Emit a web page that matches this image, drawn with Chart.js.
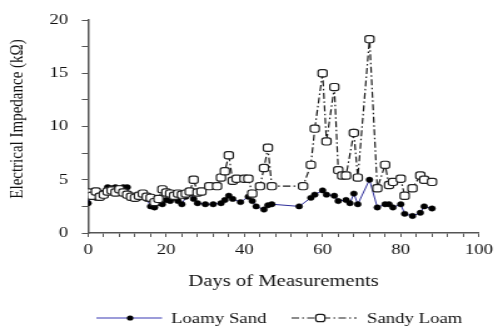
<!DOCTYPE html>
<html><head><meta charset="utf-8">
<script src="https://cdn.jsdelivr.net/npm/chart.js@4.4.1/dist/chart.umd.min.js"></script>
<style>
html,body{margin:0;padding:0;background:#fff;overflow:hidden}
#c{display:block;width:498px !important;height:328px !important}
</style>
</head><body>
<canvas id="c" width="398" height="328" style="width:498px;height:328px"></canvas>
<script>
// ---- data ----
const seriesNames = ['Loamy Sand', 'Sandy Loam'];
const loamyDays = [0,1,2,3,4,5,6,7,8,9,10,11,12,13,14,15,16,17,18,19,20,21,22,23,24,25,26,27,28,
  30,32,34,35,36,37,39,41,42,43,45,46,47,
  54,57,58,60,61,63,64,66,67,68,69,72,74,76,77,78,80,81,83,85,86,88];
const loamyValues = [2.8,3.7,3.3,3.6,3.8,4.3,4.2,4.3,4.2,4.3,4.3,3.3,3.3,3.3,3.6,3.2,2.5,2.4,2.8,2.7,3.1,3.0,3.3,3.0,2.7,3.4,3.7,3.2,2.8,
  2.7,2.7,2.8,3.1,3.5,3.2,2.9,3.4,3.0,2.5,2.2,2.6,2.7,
  2.5,3.3,3.6,4.0,3.6,3.5,3.0,3.1,2.8,3.7,2.7,5.0,2.4,2.7,2.7,2.4,2.7,1.8,1.6,1.9,2.5,2.3];
const sandyDays = [0,1,2,3,4,5,6,7,8,9,10,11,12,13,14,15,16,17,18,19,20,21,22,23,24,25,26,27,28,
  29,31,33,34,35,36,37,38,40,41,42,44,45,46,47,
  55,57,58,60,61,63,64,65,66,68,69,72,74,76,77,78,80,81,83,85,86,88];
const sandyValues = [3.8,3.5,3.9,3.4,3.6,3.9,4.0,3.8,4.1,3.8,3.6,3.4,3.3,3.5,3.7,3.4,3.3,2.9,3.2,4.1,3.8,3.7,3.5,3.7,3.6,3.7,3.9,5.0,3.8,
  3.9,4.4,4.4,5.2,5.8,7.3,4.9,5.1,5.1,5.1,3.7,4.4,6.1,8.0,4.4,
  4.4,6.4,9.8,15.0,8.6,13.7,5.9,5.4,5.4,9.4,5.2,18.2,4.2,6.4,4.5,4.8,5.1,3.5,4.2,5.4,5.0,4.8];
const xTickLabels = [0,20,40,60,80,100];
const yTickLabels = [0,5,10,15,20];
const xTitle = 'Days of Measurements';
const yTitle = 'Electrical Impedance (kΩ)';

const FONT = "'Liberation Serif', 'Times New Roman', serif";
const toPoints = (xs, ys) => xs.map((x, i) => ({x: x, y: ys[i]}));

const styles = {
  loamy: {color: '#2e2e9a', legendColor: '#7b7bcc', marker: '#000'},
  sandy: {color: '#1a1a1a', dash: [6, 2.5, 1.5, 2.5]}
};

const legendPlugin = {
  id: 'excelLegend',
  afterDraw(chart) {
    const ctx = chart.ctx;
    const y = 318;
    ctx.save();
    ctx.font = '15px ' + FONT;
    ctx.fillStyle = '#111';
    ctx.textBaseline = 'middle';
    // Loamy Sand
    ctx.strokeStyle = styles.loamy.legendColor;
    ctx.lineWidth = 1.3;
    ctx.beginPath(); ctx.moveTo(77, y); ctx.lineTo(129.5, y); ctx.stroke();
    ctx.fillStyle = '#000';
    ctx.beginPath(); ctx.arc(104, y, 2.6, 0, Math.PI * 2); ctx.fill();
    ctx.fillStyle = '#111';
    ctx.fillText(seriesNames[0], 136.7, y + 1);
    // Sandy Loam
    ctx.strokeStyle = styles.sandy.color;
    ctx.lineWidth = 1.2;
    ctx.setLineDash(styles.sandy.dash);
    ctx.beginPath(); ctx.moveTo(233, y); ctx.lineTo(285, y); ctx.stroke();
    ctx.setLineDash([]);
    ctx.fillStyle = '#fff';
    ctx.beginPath();
    ctx.roundRect(256 - 3.6, y - 3.6, 7.2, 7.2, 2.2);
    ctx.fill(); ctx.stroke();
    ctx.fillStyle = '#111';
    ctx.fillText(seriesNames[1], 293.3, y + 1);
    ctx.restore();
  }
};

new Chart(document.getElementById('c'), {
  type: 'line',
  data: {
    datasets: [
      {
        label: seriesNames[0],
        data: toPoints(loamyDays, loamyValues),
        borderColor: styles.loamy.color,
        borderWidth: 1,
        pointStyle: 'circle',
        pointRadius: 2.7,
        pointBackgroundColor: styles.loamy.marker,
        pointBorderColor: styles.loamy.marker,
        pointBorderWidth: 0.5,
        tension: 0,
        order: 2
      },
      {
        label: seriesNames[1],
        data: toPoints(sandyDays, sandyValues),
        borderColor: styles.sandy.color,
        borderWidth: 1.2,
        borderDash: styles.sandy.dash,
        pointStyle: 'rectRounded',
        pointRadius: 4.2,
        pointBackgroundColor: '#fff',
        pointBorderColor: '#222',
        pointBorderWidth: 1.2,
        tension: 0,
        order: 1
      }
    ]
  },
  options: {
    responsive: false,
    animation: false,
    devicePixelRatio: 1,
    layout: {padding: {top: 13, right: 14.4, bottom: 36, left: 0}},
    plugins: {legend: {display: false}, tooltip: {enabled: false}},
    scales: {
      x: {
        type: 'linear',
        min: 0, max: 100,
        afterFit: s => { s.height = 59; },
        border: {color: '#555', width: 1.5},
        grid: {drawOnChartArea: false, drawTicks: true, tickLength: 4, color: '#555', lineWidth: 1},
        ticks: {
          stepSize: 4, autoSkip: false, maxRotation: 0, padding: 4,
          color: '#111', font: {family: FONT, size: 15},
          callback: v => xTickLabels.includes(v) ? String(v) : ''
        },
        title: {display: true, text: xTitle, color: '#111', font: {family: FONT, size: 16.5}, padding: {top: 0, bottom: 0}}
      },
      y: {
        type: 'linear',
        min: 0, max: 20,
        afterFit: s => { s.width = 70.4; },
        border: {color: '#555', width: 1.5},
        grid: {drawOnChartArea: false, drawTicks: true, tickLength: 5, color: '#555', lineWidth: 1},
        ticks: {
          stepSize: 2.5, autoSkip: false, padding: 11,
          color: '#111', font: {family: FONT, size: 15},
          callback: v => yTickLabels.includes(v) ? String(v) : ''
        },
        title: {display: true, text: '\u2002\u2002' + yTitle, color: '#111', font: {family: FONT, size: 15}, padding: {top: 5.4, bottom: 0}}
      }
    }
  },
  plugins: [legendPlugin]
});
</script>
</body></html>
